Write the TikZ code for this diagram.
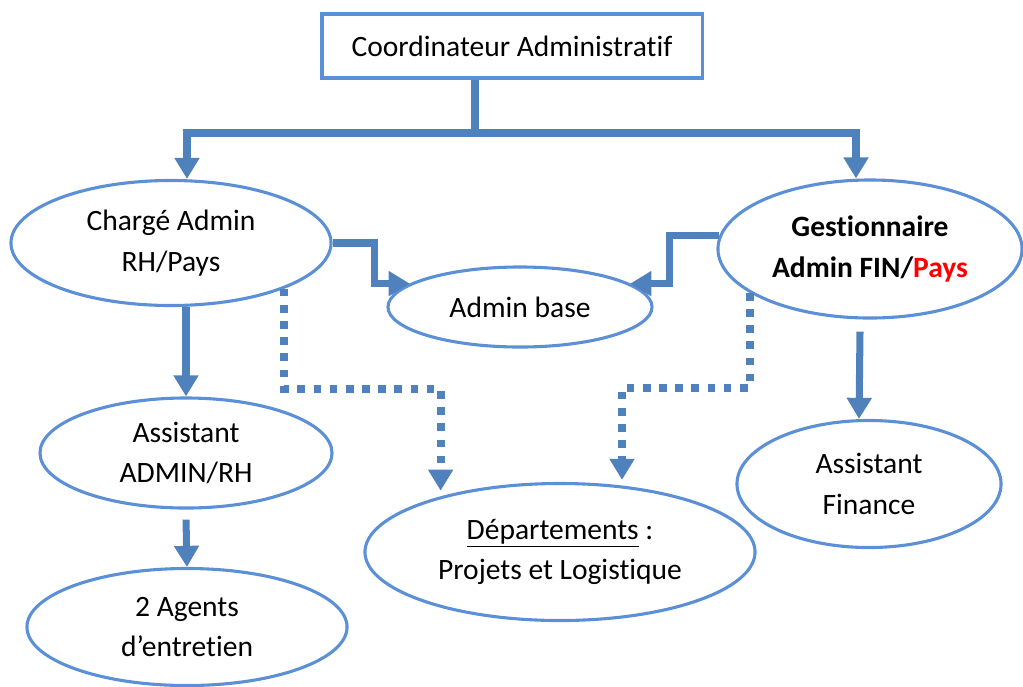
\documentclass[tikz,border=0pt]{standalone}
\usepackage{fontspec}
\setmainfont{Carlito}[Ligatures=NoCommon]
\usetikzlibrary{shapes.geometric,arrows.meta}
\definecolor{linkblue}{RGB}{79,129,189}
\definecolor{boxblue}{RGB}{91,143,214}

\begin{document}
\begin{tikzpicture}[x=0.025cm, y=-0.025cm,
    every node/.style={font=\fontsize{21}{29}\selectfont, align=center},
    boite/.style={draw=boxblue, line width=2.2pt, fill=white},
    bulle/.style={boite, ellipse, inner sep=0pt},
    fleche/.style={draw=linkblue, line width=5pt, -{Triangle[width=17pt,length=15pt]}},
    pointille/.style={fleche, line width=5.5pt, dash pattern=on 5.5pt off 6pt, shorten >=4pt}]
    \useasboundingbox (0,0) rectangle (1023,686);

    \node[boite, minimum width=9.5cm, minimum height=1.6cm] (coord) at (512,46) {Coordinateur Administratif};
    \node[bulle, minimum width=8cm, minimum height=3.125cm] (charge) at (171,243) {Chargé Admin\\RH/Pays};
    \node[bulle, minimum width=6.6cm, minimum height=2cm] (base) at (520,307) {Admin base};
    \node[bulle, minimum width=7.6cm, minimum height=3.45cm] (gest) at (870,249) {\textbf{Gestionnaire}\\\textbf{Admin FIN/\textcolor{red}{Pays}}};
    \node[bulle, minimum width=7.3cm, minimum height=2.75cm] (assist) at (186,453) {Assistant\\ADMIN/RH};
    \node[bulle, minimum width=8cm, minimum height=2.925cm] (agents) at (187,627) {2 Agents\\d’entretien};
    \node[bulle, minimum width=9.75cm, minimum height=3.425cm] (depts) at (560,552) {\underline{Départements} :\\Projets et Logistique};
    \node[bulle, minimum width=6.6cm, minimum height=3.175cm] (fin) at (869,484) {Assistant\\Finance};

    % top split
    \coordinate (split) at (475,133);
    \draw[linkblue, line width=5pt] (coord.south -| split) -- (split);
    \draw[fleche] (split) -| ([xshift=.4cm]charge.north);
    \draw[fleche] (split) -| ([xshift=-.35cm]gest.north);

    \draw[fleche] (charge.east) -- ++(42,0) |- (base.168);
    \draw[fleche] (gest.175) -- ++(-50,0) |- (base.12);
    \draw[fleche] (assist.north |- charge.south) -- (assist.north);
    \draw[fleche] ([yshift=-.25cm]assist.south) -- (agents.north);
    \draw[fleche] ([shift={(-.25cm,-.3cm)}]gest.south) -- ([xshift=-.25cm]fin.north);

    % dotted links
    \draw[pointille] (charge.-22) -- ++(0,100) -| (depts.155);
    \draw[pointille] (gest.200) -- ++(0,95) -| (depts.47);
\end{tikzpicture}
\end{document}
